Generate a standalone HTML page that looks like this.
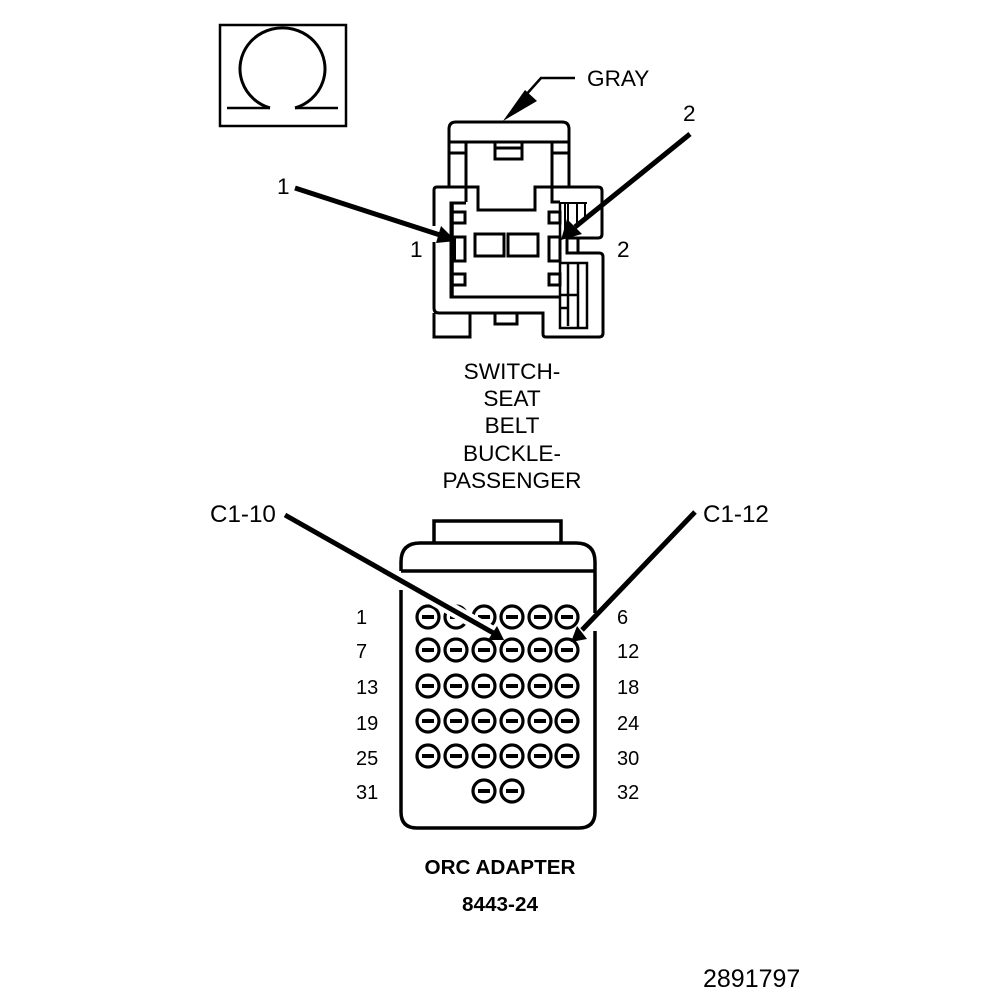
<!DOCTYPE html>
<html><head><meta charset="utf-8"><style>html,body{margin:0;padding:0;background:#fff}svg{display:block}text{font-family:"Liberation Sans",sans-serif;fill:#000}</style></head><body>
<svg width="1008" height="1000" viewBox="0 0 1008 1000" xmlns="http://www.w3.org/2000/svg">
<defs><g id="c"><circle r="11" fill="#fff" stroke="#000" stroke-width="3.2"/><rect x="-6" y="-2" width="12" height="4" fill="#000"/></g></defs>
<g fill="none" stroke="#000" stroke-width="3">
<!-- omega box -->
<rect x="220" y="25" width="126" height="101" stroke-width="2.5"/>
<path d="M227 108H270M295 108H338" stroke-width="2.5"/>
<path d="M270 108A42.5 41 0 1 1 295 108" stroke-width="3"/>
<!-- switch top -->
<path d="M449 187V129Q449 122 456 122H562Q569 122 569 129V187"/>
<path d="M449 142H569M466 142V202M552 142V202H560M449 153H466M552 153H569"/>
<path d="M495 142V159H522V142M495 148H522"/>
<!-- body -->
<path d="M434 226V190Q434 187 437 187H478V210H535V187H598Q602 187 602 191V234Q602 238 598 238H567"/>
<path d="M434 242V308Q434 313 439 313H543V334Q543 337 546 337H599Q603 337 603 333V257Q603 253 599 253H567V238M578 238V253"/>
<path d="M434 313V337H470V313M495 313V324H517V313"/>
<!-- inner -->
<path d="M466 203H451V297H560"/>
<path d="M453 203V297" stroke-width="1.5"/>
<path d="M560 203V328H587V263H560M560 295H578M560 308H568M568 263V326M578 263V328" stroke-width="2.5"/>
<path d="M560 203H587M568 203V234M577 203V226M585 203V217M565 203V230" stroke-width="2"/>
<rect x="452" y="212" width="13" height="11"/><rect x="452" y="237" width="13" height="24"/><rect x="452" y="274" width="13" height="11"/>
<rect x="549" y="212" width="11" height="11"/><rect x="549" y="237" width="11" height="24"/><rect x="549" y="274" width="11" height="11"/>
<rect x="475" y="234" width="29" height="22"/><rect x="508" y="234" width="30" height="22"/>
<!-- adapter -->
<path d="M434 542V521H561V542" stroke-width="3.5"/>
<path d="M401 571V562Q401 543 420 543H576Q595 543 595 562V613M401 571H595M401 590V812Q401 828 417 828H579Q595 828 595 812V631" stroke-width="3.5"/>
</g>
<use href="#c" x="428" y="617"/><use href="#c" x="456" y="617"/><use href="#c" x="484" y="617"/><use href="#c" x="512" y="617"/><use href="#c" x="540" y="617"/><use href="#c" x="567" y="617"/>
<use href="#c" x="428" y="650"/><use href="#c" x="456" y="650"/><use href="#c" x="484" y="650"/><use href="#c" x="512" y="650"/><use href="#c" x="540" y="650"/><use href="#c" x="567" y="650"/>
<use href="#c" x="428" y="686"/><use href="#c" x="456" y="686"/><use href="#c" x="484" y="686"/><use href="#c" x="512" y="686"/><use href="#c" x="540" y="686"/><use href="#c" x="567" y="686"/>
<use href="#c" x="428" y="721"/><use href="#c" x="456" y="721"/><use href="#c" x="484" y="721"/><use href="#c" x="512" y="721"/><use href="#c" x="540" y="721"/><use href="#c" x="567" y="721"/>
<use href="#c" x="428" y="756"/><use href="#c" x="456" y="756"/><use href="#c" x="484" y="756"/><use href="#c" x="512" y="756"/><use href="#c" x="540" y="756"/><use href="#c" x="567" y="756"/>
<use href="#c" x="484" y="791"/><use href="#c" x="512" y="791"/>
<!-- leaders -->
<g fill="none" stroke="#000">
<path d="M575 78H541L516 106" stroke-width="2.5"/>
<path d="M295 188L440 235" stroke-width="5"/>
<path d="M690 134L575 227" stroke-width="5"/>
<path d="M285 515L497 635" stroke="#fff" stroke-width="13"/>
<path d="M285 515L497 635" stroke-width="5"/>
<path d="M695 512L582 630" stroke-width="5"/>
</g>
<path d="M525 90L503 121L537 101Z"/>
<path d="M456 241L436 243L441 226Z"/>
<rect x="450" y="237" width="6" height="25"/>
<path d="M561 240L567 219L582 234Z"/>
<path d="M504 640L488 640L497 626Z"/>
<path d="M571 642L587 639L577 626Z"/>
<g font-size="22.6">
<text x="587" y="86">GRAY</text>
<text x="683" y="121">2</text>
<text x="277" y="194">1</text>
<text x="410" y="257">1</text>
<text x="617" y="257">2</text>
<text x="512" y="379" text-anchor="middle">SWITCH-</text>
<text x="512" y="406" text-anchor="middle">SEAT</text>
<text x="512" y="433" text-anchor="middle">BELT</text>
<text x="512" y="461" text-anchor="middle">BUCKLE-</text>
<text x="512" y="488" text-anchor="middle">PASSENGER</text>
<text x="210" y="522" font-size="24.2">C1-10</text>
<text x="703" y="522" font-size="24.2">C1-12</text>
<text x="703" y="987" font-size="25">2891797</text>
</g>
<g font-size="20">
<text x="356" y="624">1</text><text x="356" y="658">7</text><text x="356" y="694">13</text><text x="356" y="730">19</text><text x="356" y="765">25</text><text x="356" y="799">31</text>
<text x="617" y="624">6</text><text x="617" y="658">12</text><text x="617" y="694">18</text><text x="617" y="730">24</text><text x="617" y="765">30</text><text x="617" y="799">32</text>
</g>
<g font-size="20.7" font-weight="bold" text-anchor="middle">
<text x="500" y="874">ORC ADAPTER</text>
<text x="500" y="911">8443-24</text>
</g>
</svg>
</body></html>
